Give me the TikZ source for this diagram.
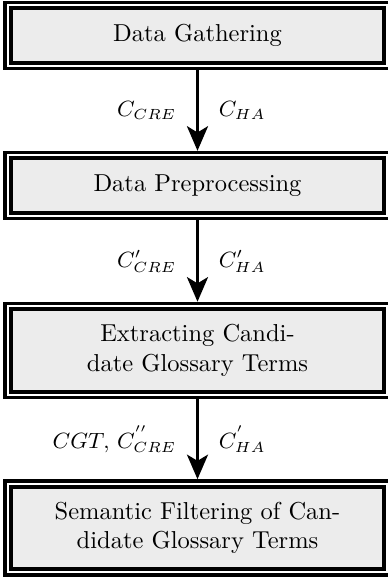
\documentclass[tikz,border=0pt]{standalone}
\usetikzlibrary{arrows.meta}
\begin{document}
\begin{tikzpicture}[x=0.4082pt,y=-0.4082pt,
  stagebox/.style={draw=black, line width=1.4pt, fill=white, inner sep=0pt,
    minimum width=157.1pt, align=center, font=\normalsize,
    path picture={\draw[line width=1.7pt, fill=gray!15]
      ([xshift=2.35pt,yshift=-2.35pt]path picture bounding box.north west) rectangle
      ([xshift=-2.35pt,yshift=2.35pt]path picture bounding box.south east);}},
  small/.style={minimum height=26.9pt},
  big/.style={minimum height=38.4pt},
  flow/.style={line width=1.6pt, -{Stealth[length=10pt,width=8.5pt,inset=2.5pt]}},
  lbl/.style={midway, inner sep=3.3pt, font=\small}
]
\useasboundingbox (0,0) rectangle (388,578);
\node[stagebox, small] (b1) at (197.5,35.5) {Data Gathering};
\node[stagebox, small] (b2) at (197.5,185.5) {Data Preprocessing};
\node[stagebox, big] (b3) at (197.5,350.5) {Extracting Candi-\\date Glossary Terms};
\node[stagebox, big] (b4) at (197.5,528) {Semantic Filtering of Can-\\didate Glossary Terms};
\draw[flow] (b1) -- (b2)
  node[lbl, left=4.6pt] (l1a) {$C_{CRE}$}
  node[lbl, right=4.6pt] (l1b) {$C_{HA}$};
\draw[flow] (b2) -- (b3)
  node[lbl, left=4.6pt] (l2a) {$C'_{CRE}$}
  node[lbl, right=4.6pt] (l2b) {$C'_{HA}$};
\draw[flow] (b3) -- (b4)
  node[lbl, left=4.6pt] (l3a) {$CGT,\, C^{''}_{CRE}$}
  node[lbl, right=4.6pt] (l3b) {$C^{'}_{HA}$};
\end{tikzpicture}
\end{document}
